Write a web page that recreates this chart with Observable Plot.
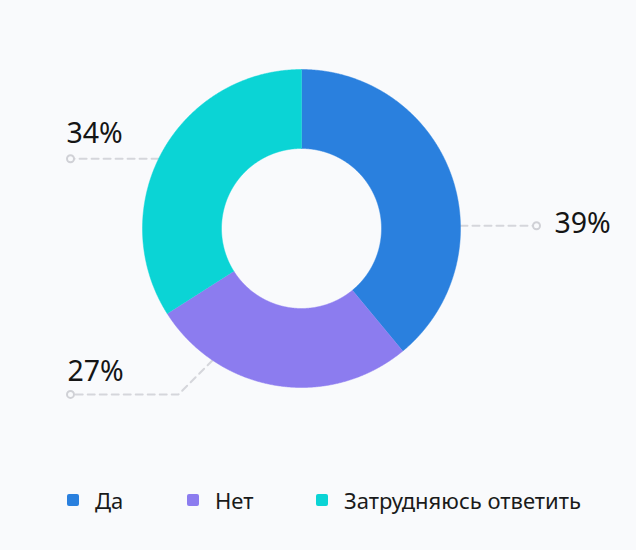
<!DOCTYPE html>
<html>
<head>
<meta charset="utf-8">
<script src="https://cdn.jsdelivr.net/npm/d3@7"></script>
<script src="https://cdn.jsdelivr.net/npm/@observablehq/plot@0.6"></script>
<style>
  html, body { margin: 0; padding: 0; background: #f9fafc; }
  body { width: 636px; height: 550px; overflow: hidden; font-family: "Noto Sans", sans-serif; }
  #legend { display: flex; align-items: center; padding-left: 67px; height: 26px; margin-top: 27px; font-size: 22px; color: #1a1a1a; }
  .item { display: flex; align-items: center; flex: none; }
  .sw { width: 12px; height: 12px; border-radius: 2px; margin-right: 16px; flex: none; }
</style>
</head>
<body>
<div id="chart"></div>
<div id="legend"></div>
<script>
const categories = ["Да", "Нет", "Затрудняюсь ответить"];
const values = [39, 27, 34];
const labels = ["39%", "27%", "34%"];
const colors = ["#2A80DE", "#8C7CEF", "#0BD4D5"];

const R = 159, r0 = 80;
const pie = d3.pie().sort(null).value(d => d).startAngle(0).endAngle(2 * Math.PI);
const arcs = pie(values);

// slice polygons in chart units (center = 0,0)
const slicePts = [];
arcs.forEach((a, i) => {
  const n = Math.max(8, Math.ceil((a.endAngle - a.startAngle) / 0.005));
  for (let k = 0; k <= n; k++) {
    const t = a.startAngle + (a.endAngle - a.startAngle) * k / n;
    slicePts.push({key: categories[i], x: R * Math.sin(t), y: R * Math.cos(t)});
  }
  for (let k = n; k >= 0; k--) {
    const t = a.startAngle + (a.endAngle - a.startAngle) * k / n;
    slicePts.push({key: categories[i], x: r0 * Math.sin(t), y: r0 * Math.cos(t)});
  }
});

// leader layout: angle on outer edge where the leader starts, optional 45° elbow, end
const layout = [
  {angle: 89, elbowX: null, endX: 235, textX: 253, textY: 4.5},
  {angle: 214, elbowX: -123, endX: -231, textX: -234, textY: -143},
  {angle: 296, elbowX: null, endX: -231, textX: -235, textY: 95}
];
const leaderPts = [];
const ends = [];
const texts = [];
layout.forEach((L, i) => {
  const t = L.angle * Math.PI / 180;
  const sx = R * Math.sin(t), sy = R * Math.cos(t);
  leaderPts.push({key: categories[i], x: sx, y: sy});
  let ly = sy;
  if (L.elbowX !== null) {
    ly = sy - Math.abs(L.elbowX - sx) * (sy < 0 ? 1 : -1);
    leaderPts.push({key: categories[i], x: L.elbowX, y: ly});
  }
  leaderPts.push({key: categories[i], x: L.endX, y: ly});
  ends.push({x: L.endX, y: ly});
  texts.push({x: L.textX, y: L.textY, label: labels[i]});
});

const chart = Plot.plot({
  width: 636,
  height: 460,
  margin: 0,
  x: {type: "linear", domain: [-301, 335], range: [0, 636], axis: null},
  y: {type: "linear", domain: [-232, 228], range: [460, 0], axis: null},
  color: {domain: categories, range: colors},
  style: {background: "transparent", fontFamily: "Noto Sans"},
  marks: [
    Plot.line(leaderPts, {x: "x", y: "y", z: "key", stroke: "#d5d6db", strokeWidth: 2, strokeDasharray: "7,5", curve: "linear"}),
    Plot.dot(ends, {x: "x", y: "y", r: 3.5, stroke: "#d0d1d6", strokeWidth: 2, fill: "#f9fafc"}),
    Plot.line(slicePts, {x: "x", y: "y", z: "key", fill: "key", stroke: "key", strokeWidth: 0.5, curve: "linear"}),
    Plot.text(texts, {x: "x", y: "y", text: "label", textAnchor: "start", lineAnchor: "middle", fontSize: 28.5, fill: "#151515"})
  ]
});
document.getElementById("chart").appendChild(chart);

const legend = document.getElementById("legend");
const widths = [120, 129, null];
categories.forEach((c, i) => {
  const item = document.createElement("div");
  item.className = "item";
  if (widths[i]) item.style.width = widths[i] + "px";
  const sw = document.createElement("span");
  sw.className = "sw";
  sw.style.background = colors[i];
  const tx = document.createElement("span");
  tx.textContent = c;
  item.appendChild(sw);
  item.appendChild(tx);
  legend.appendChild(item);
});
</script>
</body>
</html>
